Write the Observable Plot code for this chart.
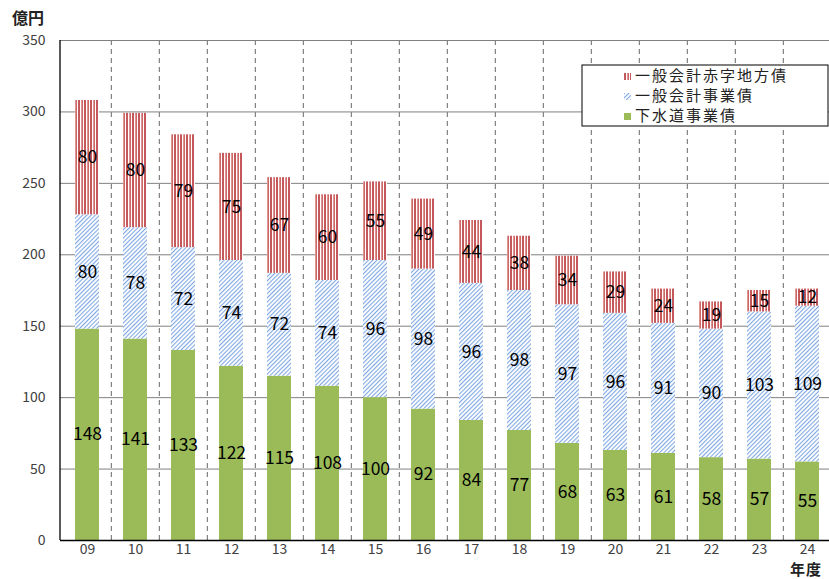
<!DOCTYPE html>
<html><head><meta charset="utf-8">
<script src="https://cdn.jsdelivr.net/npm/d3@7"></script>
<script src="https://cdn.jsdelivr.net/npm/@observablehq/plot@0.6"></script>
<style>
html,body{margin:0;padding:0;background:#fff;}
#chart svg{display:block;}
</style>
</head><body><div id="chart"></div>
<script>
const years = ["09","10","11","12","13","14","15","16","17","18","19","20","21","22","23","24"];
const sewer   = [148,141,133,122,115,108,100,92,84,77,68,63,61,58,57,55];
const general = [80,78,72,74,72,74,96,98,96,98,97,96,91,90,103,109];
const deficit = [80,80,79,75,67,60,55,49,44,38,34,29,24,19,15,12];
const seriesNames = ["下水道事業債","一般会計事業債","一般会計赤字地方債"];
const yTicks = [0,50,100,150,200,250,300,350];

const FONT = "'Noto Sans CJK JP', 'Noto Sans', sans-serif";
const W = 829, H = 579;
const xRange = [61, 833];
const step = (xRange[1]-xRange[0]) / years.length;

function stackRows(values, base) {
  return years.map((year, i) => ({year, value: values[i], y1: base[i], y2: base[i] + values[i]}));
}
const zeros = years.map(() => 0);
const gRows = stackRows(sewer, zeros);
const bRows = stackRows(general, sewer);
const rRows = stackRows(deficit, sewer.map((v, i) => v + general[i]));

const labelRows = [...gRows, ...bRows, ...rRows].map(d => ({...d, mid: (d.y1 + d.y2) / 2}));

function decorations(index, scales, values, dim) {
  const g = d3.create("svg:g");
  const defs = g.append("defs");
  const pr = defs.append("pattern").attr("id","redStripe").attr("patternUnits","userSpaceOnUse")
    .attr("width",6).attr("height",6);
  pr.append("rect").attr("width",6).attr("height",6).attr("fill","#fff");
  pr.append("rect").attr("x",0).attr("width",2).attr("height",6).attr("fill","#C4585A");
  pr.append("rect").attr("x",3).attr("width",1).attr("height",6).attr("fill","#DE9494");
  pr.append("rect").attr("x",4).attr("width",1).attr("height",6).attr("fill","#CC6866");
  const pb = defs.append("pattern").attr("id","blueHatch").attr("patternUnits","userSpaceOnUse")
    .attr("width",3).attr("height",3).attr("patternTransform","rotate(45)");
  pb.append("rect").attr("width",3).attr("height",3).attr("fill","#FFFFFF");
  pb.append("rect").attr("x",0).attr("width",1.1).attr("height",3).attr("fill","#7FA8E4");
  return g.node();
}

function overlay(index, scales, values, dim) {
  const g = d3.create("svg:g").attr("font-family", FONT).attr("text-anchor", "start");
  g.append("line").attr("x1", dim.marginLeft).attr("x2", dim.marginLeft)
    .attr("y1", dim.marginTop).attr("y2", dim.height - dim.marginBottom)
    .attr("stroke", "#000").attr("stroke-width", 1.3);
  g.append("text").attr("x", 12).attr("y", 24).attr("font-size", 16).attr("font-weight", "bold")
    .attr("fill", "#222").text("億円");
  g.append("text").attr("x", 790).attr("y", 575).attr("font-size", 15).attr("font-weight", "bold")
    .attr("fill", "#222").attr("letter-spacing", 1).text("年度");
  const lx = 582, ly = 65;
  g.append("rect").attr("x", lx).attr("y", ly).attr("width", 246).attr("height", 61)
    .attr("fill", "#fff").attr("stroke", "#000").attr("stroke-width", 1);
  const items = [
    {name: seriesNames[2], fill: "url(#redStripe)"},
    {name: seriesNames[1], fill: "url(#blueHatch)"},
    {name: seriesNames[0], fill: "#9BBB59"}
  ];
  items.forEach((it, i) => {
    const cy = ly + 11 + i * 20;
    g.append("rect").attr("x", 624).attr("y", cy - 3).attr("width", 7).attr("height", 7).attr("fill", it.fill);
    g.append("text").attr("x", 635).attr("y", cy).attr("dy", "0.36em").attr("font-size", 15)
      .attr("letter-spacing", 2).attr("fill", "#222").text(it.name);
  });
  return g.node();
}

const chart = Plot.plot({
  width: W, height: H,
  marginLeft: 60, marginRight: 0, marginTop: 40, marginBottom: 39,
  style: {fontFamily: FONT, background: "#fff", overflow: "visible"},
  x: {domain: years, range: xRange, paddingInner: 0.5, paddingOuter: 0.25, label: null},
  y: {domain: [0, 350], label: null},
  marks: [
    decorations,
    Plot.gridY(yTicks.slice(1), {stroke: "#808080", strokeOpacity: 1, strokeWidth: 1}),
    Plot.ruleX(years.slice(1), {y1: 0, y2: 350, dx: -step / 2, stroke: "#808080", strokeWidth: 1.2, strokeDasharray: "5,4"}),
    Plot.barY(gRows, {x: "year", y1: "y1", y2: "y2", fill: "#9BBB59"}),
    Plot.barY(bRows, {x: "year", y1: "y1", y2: "y2", fill: "url(#blueHatch)"}),
    Plot.barY(rRows, {x: "year", y1: "y1", y2: "y2", fill: "url(#redStripe)"}),
    Plot.text(labelRows, {x: "year", y: "mid", text: d => String(d.value), fontSize: 17.5, fill: "#000", letterSpacing: 2}),
    Plot.ruleY([0], {stroke: "#000", strokeWidth: 1.3}),
    Plot.axisY({ticks: yTicks, tickSize: 0, tickPadding: 15, fontSize: 14, color: "#404040", label: null}),
    Plot.axisX({tickSize: 0, tickPadding: 4, fontSize: 14, color: "#404040", label: null}),
    overlay
  ]
});
document.getElementById("chart").appendChild(chart);
</script>
</body></html>
